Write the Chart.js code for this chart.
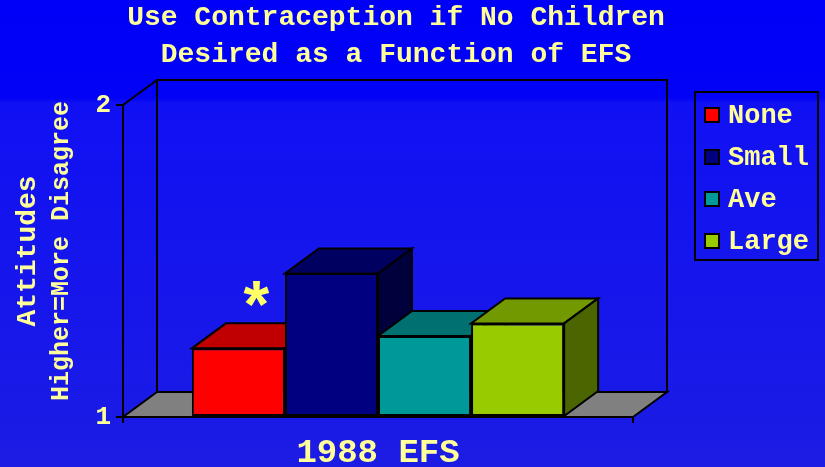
<!DOCTYPE html>
<html>
<head>
<meta charset="utf-8">
<script src="https://cdn.jsdelivr.net/npm/chart.js@4.4.1/dist/chart.umd.min.js"></script>
<style>
  html, body { margin: 0; padding: 0; background: #0a0af0; }
  #chart { display: block; }
</style>
</head>
<body>
<canvas id="chart" width="825" height="467"></canvas>
<script>
// Data
const categories = ['1988 EFS'];
const seriesNames = ['None', 'Small', 'Ave', 'Large'];
const seriesValues = [1.22, 1.46, 1.26, 1.30];
const yTickValues = [1, 2];
const titleLines = ['Use Contraception if No Children', 'Desired as a Function of EFS'];
const yTitle = 'Attitudes';
const ySubTitle = 'Higher=More Disagree';
const markedSeries = 'None'; // bar that gets the asterisk

// Style
const frontColors = ['#ff0000', '#000080', '#009999', '#99cc00'];
const topColors = ['#c00000', '#000060', '#007070', '#739900'];
const sideColors = ['#800000', '#00003c', '#005050', '#4b6600'];
const TEXT = '#ffff99';
const MONO = '"Liberation Mono", "Courier New", monospace';
const DEPTH_X = 34;
const DEPTH_Y = 25;

const poly = (ctx, pts, fill) => {
    ctx.beginPath();
    ctx.moveTo(pts[0][0], pts[0][1]);
    pts.slice(1).forEach(p => ctx.lineTo(p[0], p[1]));
    ctx.closePath();
    if (fill) { ctx.fillStyle = fill; ctx.fill(); }
    ctx.stroke();
};

const background = {
    id: 'background',
    beforeDraw(chart) {
        const { ctx, width, height } = chart;
        const g = ctx.createLinearGradient(0, 0, 0, height);
        g.addColorStop(0, '#0000f8');
        g.addColorStop(0.21, '#0202f6');
        g.addColorStop(0.22, '#1010f4');
        g.addColorStop(1, '#1c1ce4');
        ctx.save();
        ctx.fillStyle = g;
        ctx.fillRect(0, 0, width, height);
        ctx.restore();
    }
};

// floor, back wall and the top / side faces of each bar
const depth = {
    id: 'depth',
    beforeDatasetsDraw(chart) {
        const { ctx, chartArea: a } = chart;
        ctx.save();
        ctx.strokeStyle = '#000';
        ctx.lineWidth = 2;

        // floor
        poly(ctx, [[a.left, a.bottom], [a.right, a.bottom],
                   [a.right + DEPTH_X, a.bottom - DEPTH_Y], [a.left + DEPTH_X, a.bottom - DEPTH_Y]], '#808080');
        // back wall + left wall top edge
        ctx.strokeRect(a.left + DEPTH_X, a.top - DEPTH_Y, a.right - a.left, a.bottom - a.top);
        ctx.beginPath();
        ctx.moveTo(a.left, a.top);
        ctx.lineTo(a.left + DEPTH_X, a.top - DEPTH_Y);
        ctx.stroke();

        chart.data.datasets.forEach((ds, i) => {
            chart.getDatasetMeta(i).data.forEach(bar => {
                const l = bar.x - bar.width / 2, r = bar.x + bar.width / 2;
                const t = bar.y, b = Math.min(bar.base, a.bottom);
                poly(ctx, [[l, t], [r, t], [r + DEPTH_X, t - DEPTH_Y], [l + DEPTH_X, t - DEPTH_Y]], topColors[i]);
                poly(ctx, [[r, t], [r + DEPTH_X, t - DEPTH_Y], [r + DEPTH_X, b - DEPTH_Y], [r, b]], sideColors[i]);
            });
        });
        ctx.restore();
    },
    afterDatasetsDraw(chart) {
        const idx = seriesNames.indexOf(markedSeries);
        const bar = chart.getDatasetMeta(idx).data[0];
        const { ctx } = chart;
        ctx.save();
        ctx.fillStyle = '#ffff66';
        ctx.font = 'bold 66px "Liberation Sans", Arial, sans-serif';
        ctx.textAlign = 'center';
        ctx.textBaseline = 'middle';
        ctx.fillText('*', bar.x + 18, bar.y - 40);
        ctx.restore();
    }
};

const texts = {
    id: 'texts',
    afterDraw(chart) {
        const { ctx } = chart;
        ctx.save();
        ctx.fillStyle = TEXT;
        ctx.textAlign = 'center';
        ctx.textBaseline = 'middle';

        // title
        ctx.font = `bold 28px ${MONO}`;
        titleLines.forEach((line, i) => ctx.fillText(line, 396, 18 + i * 37));

        // y titles
        ctx.save();
        ctx.translate(28, 251);
        ctx.rotate(-Math.PI / 2);
        ctx.font = `bold 28px ${MONO}`;
        ctx.fillText(yTitle, 0, 0);
        ctx.restore();
        ctx.save();
        ctx.translate(62, 251);
        ctx.rotate(-Math.PI / 2);
        ctx.font = `bold 25px ${MONO}`;
        ctx.fillText(ySubTitle, 0, 0);
        ctx.restore();

        // legend
        ctx.strokeStyle = '#000';
        ctx.lineWidth = 2;
        ctx.strokeRect(695, 92, 123, 168);
        ctx.font = `bold 27px ${MONO}`;
        ctx.textAlign = 'left';
        chart.data.datasets.forEach((ds, i) => {
            const y = 115 + i * 42;
            ctx.fillStyle = ds.backgroundColor;
            ctx.fillRect(705, y - 7, 14, 14);
            ctx.strokeRect(705, y - 7, 14, 14);
            ctx.fillStyle = TEXT;
            ctx.fillText(ds.label, 728, y + 1);
        });
        ctx.restore();
    }
};

new Chart(document.getElementById('chart'), {
    type: 'bar',
    data: {
        labels: categories,
        datasets: seriesNames.map((name, i) => ({
            label: name,
            data: [seriesValues[i]],
            base: yTickValues[0],
            backgroundColor: frontColors[i],
            borderColor: '#000',
            borderWidth: 2,
            borderSkipped: false
        }))
    },
    options: {
        responsive: false,
        animation: false,
        layout: { padding: { top: 105, right: 192, left: 0, bottom: 0 } },
        categoryPercentage: 0.73,
        barPercentage: 1,
        plugins: {
            legend: { display: false },
            title: { display: false },
            tooltip: { enabled: false }
        },
        scales: {
            x: {
                afterFit: s => { s.height = 50; },
                grid: { drawOnChartArea: false, tickLength: 6, color: '#000', lineWidth: 2 },
                border: { color: '#000', width: 2 },
                ticks: { color: TEXT, font: { family: MONO, size: 34, weight: 'bold' }, padding: 10 }
            },
            y: {
                min: yTickValues[0],
                max: yTickValues[yTickValues.length - 1],
                afterFit: s => { s.width = 123; },
                afterBuildTicks: s => { s.ticks = yTickValues.map(v => ({ value: v })); },
                grid: { drawOnChartArea: false, tickLength: 7, color: '#000', lineWidth: 2 },
                border: { color: '#000', width: 2 },
                ticks: { color: TEXT, font: { family: MONO, size: 26, weight: 'bold' }, padding: 5 }
            }
        }
    },
    plugins: [background, depth, texts]
});
</script>
</body>
</html>
